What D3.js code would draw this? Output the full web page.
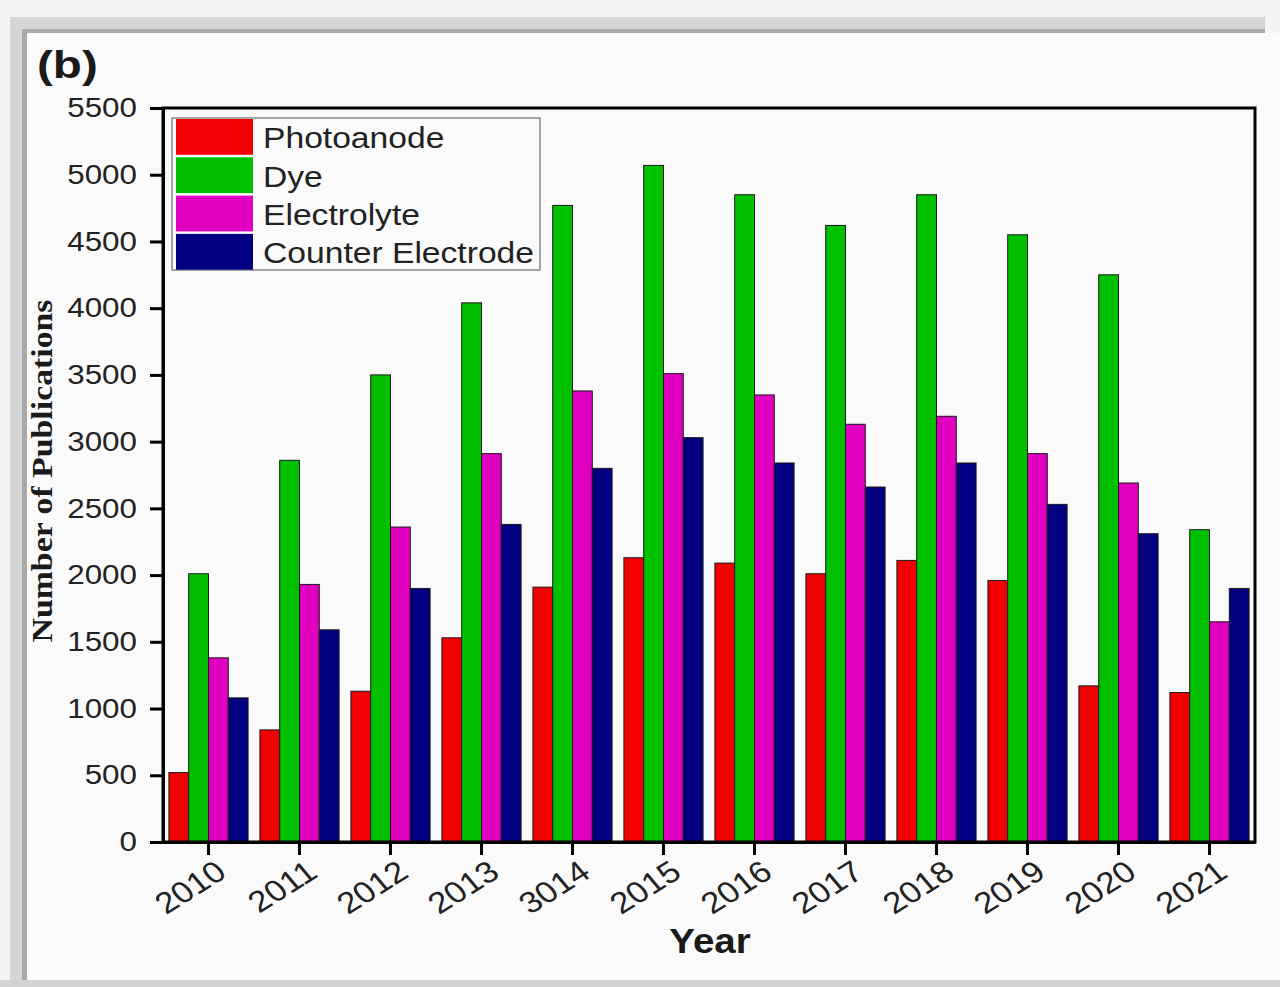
<!DOCTYPE html>
<html>
<head>
<meta charset="utf-8">
<script src="https://cdn.jsdelivr.net/npm/d3@7"></script>
<style>
  body { margin: 0; background: #f5f5f5; }
  svg { display: block; }
</style>
</head>
<body>
<div id="chart"></div>
<script>
// Données (b)
const years = ["2010", "2011", "2012", "2013", "3014", "2015", "2016", "2017", "2018", "2019", "2020", "2021"];
const seriesNames = ["Photoanode", "Dye", "Electrolyte", "Counter Electrode"];
const photoanode = [520, 840, 1130, 1530, 1910, 2130, 2090, 2010, 2110, 1960, 1170, 1120];
const dye = [2010, 2860, 3500, 4040, 4770, 5070, 4850, 4620, 4850, 4550, 4250, 2340];
const electrolyte = [1380, 1930, 2360, 2910, 3380, 3510, 3350, 3130, 3190, 2910, 2690, 1650];
const counterElectrode = [1080, 1590, 1900, 2380, 2800, 3030, 2840, 2660, 2840, 2530, 2310, 1900];
const yTicks = [0, 500, 1000, 1500, 2000, 2500, 3000, 3500, 4000, 4500, 5000, 5500];
const colors = ["#f00000", "#00c000", "#e000c0", "#000080"];

const W = 1280, H = 987;
const plot = { left: 163, right: 1255, top: 108, bottom: 842 };
const SX = 1.16; // l'image d'origine est étirée horizontalement

const allSeries = [photoanode, dye, electrolyte, counterElectrode];
const data = years.map((y, i) => ({
    year: y,
    values: seriesNames.map((name, k) => ({ name, k, value: allSeries[k][i] }))
}));

const svg = d3.select("#chart").append("svg")
    .attr("width", W)
    .attr("height", H);

// --- cadre gris autour du panneau ---
svg.append("rect").attr("x", 0).attr("y", 0).attr("width", W).attr("height", H).attr("fill", "#f4f4f4");
svg.append("rect").attr("x", 10).attr("y", 17).attr("width", 1255).attr("height", 970).attr("fill", "#d6d6d6");
svg.append("rect").attr("x", 22).attr("y", 29).attr("width", 1243).attr("height", 958).attr("fill", "#a8a8a8");
svg.append("rect").attr("x", 27).attr("y", 33).attr("width", 1253).attr("height", 947).attr("fill", "#fafafa");
svg.append("rect").attr("x", 0).attr("y", 980).attr("width", W).attr("height", 7).attr("fill", "#d2d2d2");

// --- échelles ---
const x0 = d3.scaleBand()
    .domain(years)
    .range([plot.left, plot.right])
    .paddingInner(0.13)
    .paddingOuter(0.065);

const x1 = d3.scaleBand()
    .domain(seriesNames)
    .range([0, x0.bandwidth()]);

const y = d3.scaleLinear()
    .domain([0, 5500])
    .range([plot.bottom, plot.top]);

// --- barres ---
const groups = svg.append("g")
    .selectAll("g")
    .data(data)
    .join("g")
    .attr("transform", d => `translate(${x0(d.year)},0)`);

groups.selectAll("rect")
    .data(d => d.values)
    .join("rect")
    .attr("x", d => x1(d.name))
    .attr("y", d => y(d.value))
    .attr("width", x1.bandwidth())
    .attr("height", d => y(0) - y(d.value))
    .attr("fill", d => colors[d.k])
    .attr("stroke", "#1a1a1a")
    .attr("stroke-width", 1);

// --- cadre du graphique ---
svg.append("rect")
    .attr("x", plot.left)
    .attr("y", plot.top)
    .attr("width", plot.right - plot.left)
    .attr("height", plot.bottom - plot.top)
    .attr("fill", "none")
    .attr("stroke", "#000")
    .attr("stroke-width", 3);

// --- axe Y ---
const yAxis = svg.append("g")
    .attr("transform", `translate(${plot.left},0)`)
    .call(d3.axisLeft(y).tickValues(yTicks).tickFormat(d3.format("d"))
        .tickSize(13).tickSizeOuter(0).tickPadding(9.5));

yAxis.select(".domain").attr("stroke-width", 3);
yAxis.selectAll(".tick line").attr("stroke-width", 3);
yAxis.selectAll(".tick text")
    .attr("transform", `scale(${SX},1)`)
    .attr("fill", "#222")
    .style("font-family", "'Liberation Sans', Arial, sans-serif")
    .style("font-size", "27px");

// --- axe X ---
const xAxis = svg.append("g")
    .attr("transform", `translate(0,${plot.bottom})`)
    .call(d3.axisBottom(x0).tickSize(13).tickSizeOuter(0));

xAxis.select(".domain").attr("stroke-width", 3);
xAxis.selectAll(".tick line").attr("stroke-width", 3);
xAxis.selectAll(".tick text")
    .attr("x", 0)
    .attr("y", 0)
    .attr("dy", 0)
    .attr("text-anchor", "end")
    .attr("transform", `translate(20,34) scale(${SX},1) rotate(-36)`)
    .attr("fill", "#222")
    .style("font-family", "'Liberation Sans', Arial, sans-serif")
    .style("font-size", "30px");

// --- titres ---
svg.append("text")
    .attr("text-anchor", "middle")
    .attr("transform", `translate(710,953) scale(1.1,1)`)
    .style("font-family", "'Liberation Sans', Arial, sans-serif")
    .style("font-size", "35px")
    .style("font-weight", "bold")
    .attr("fill", "#1a1a1a")
    .text("Year");

svg.append("text")
    .attr("text-anchor", "middle")
    .attr("transform", "translate(52,471) rotate(-90)")
    .attr("textLength", 343)
    .attr("lengthAdjust", "spacingAndGlyphs")
    .style("font-family", "'Liberation Serif', 'Times New Roman', serif")
    .style("font-size", "30px")
    .style("font-weight", "bold")
    .attr("fill", "#1a1a1a")
    .text("Number of Publications");

svg.append("text")
    .attr("transform", "translate(37,78) scale(1.22,1)")
    .style("font-family", "'Liberation Sans', Arial, sans-serif")
    .style("font-size", "39px")
    .style("font-weight", "bold")
    .attr("fill", "#1a1a1a")
    .text("(b)");

// --- légende ---
const legend = svg.append("g");
legend.append("rect")
    .attr("x", 172)
    .attr("y", 118)
    .attr("width", 368)
    .attr("height", 152)
    .attr("fill", "#fafafa")
    .attr("stroke", "#8a8a8a")
    .attr("stroke-width", 1.5);

const rowH = 38.3;
const items = legend.selectAll(".item")
    .data(seriesNames)
    .join("g")
    .attr("class", "item")
    .attr("transform", (d, i) => `translate(176,${119 + i * rowH})`);

items.append("rect")
    .attr("width", 77)
    .attr("height", rowH - 2.5)
    .attr("fill", (d, i) => colors[i]);

items.append("text")
    .attr("transform", `translate(87,${rowH - 9}) scale(${SX},1)`)
    .style("font-family", "'Liberation Sans', Arial, sans-serif")
    .style("font-size", "29px")
    .attr("fill", "#222")
    .text(d => d);
</script>
</body>
</html>
